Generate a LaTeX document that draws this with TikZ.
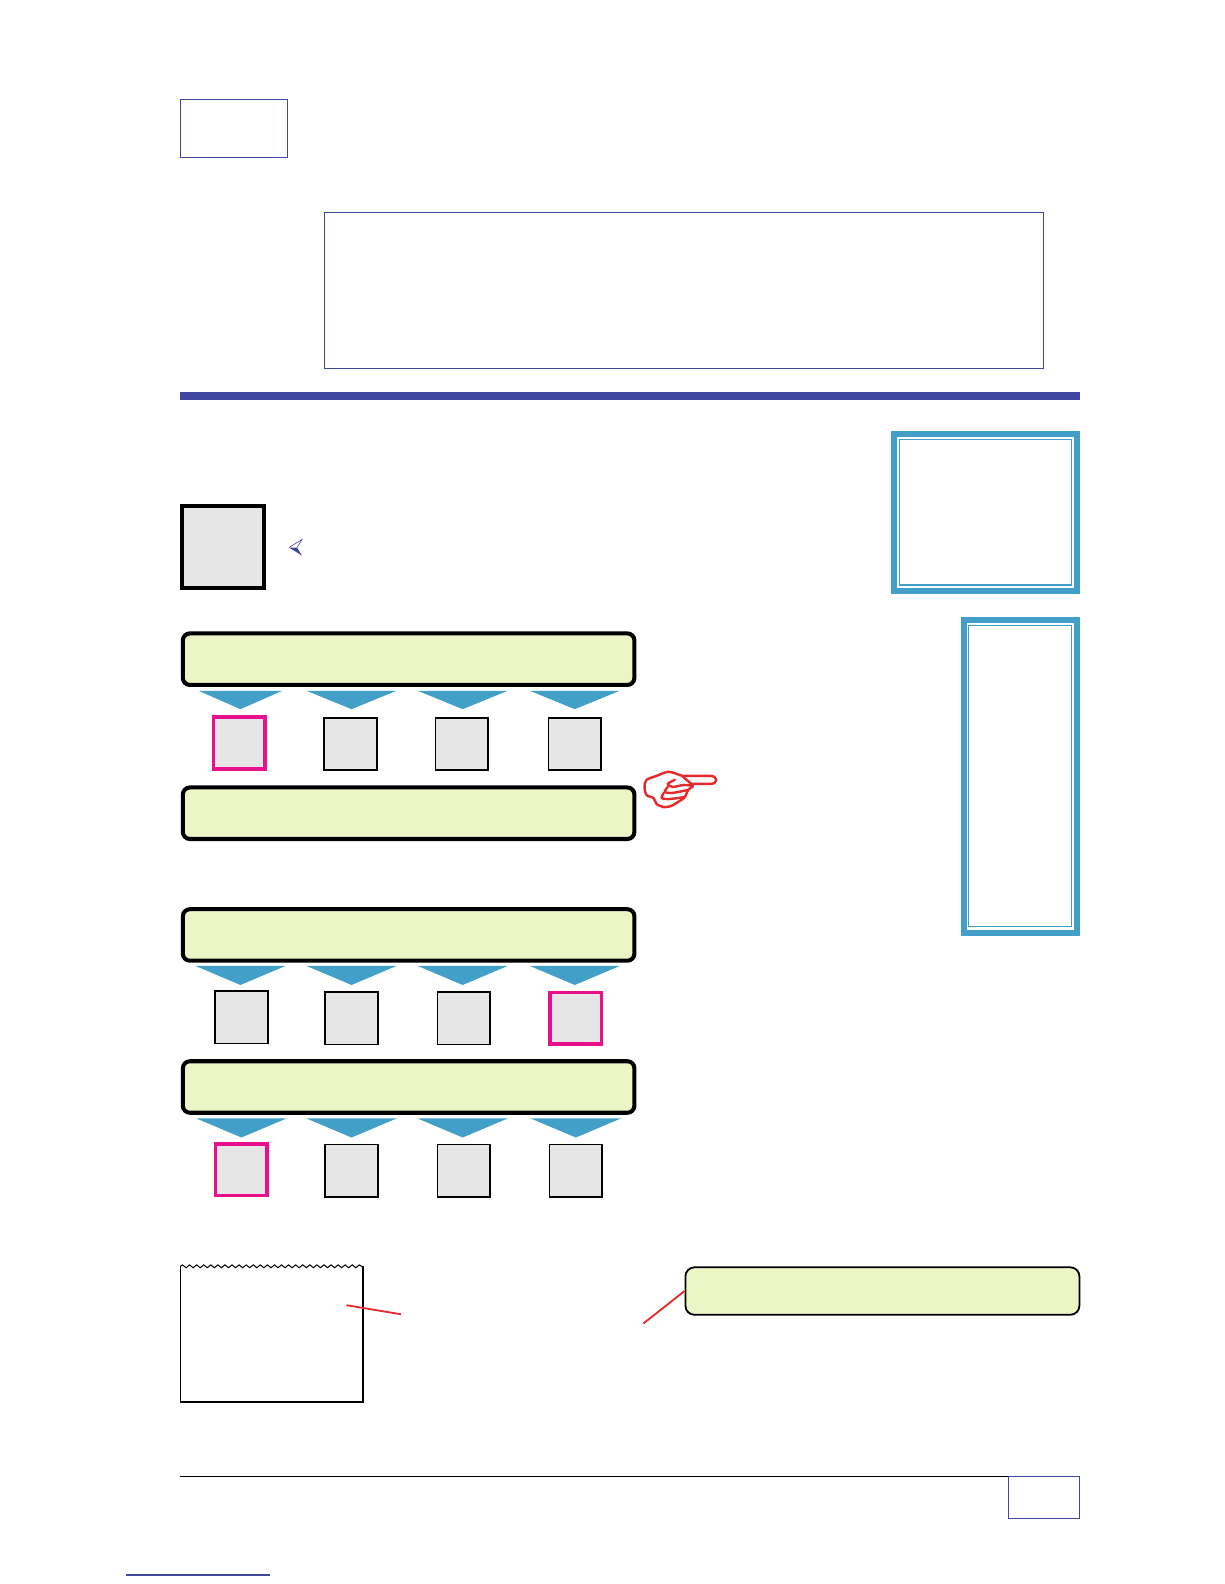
\documentclass[tikz,border=0pt]{standalone}
\usepackage{tikz}
\usetikzlibrary{decorations.pathmorphing,positioning}
\definecolor{navyline}{HTML}{3F479E}
\definecolor{paleblue}{HTML}{42A0C8}
\definecolor{palegreen}{HTML}{ECF5C6}
\definecolor{palegray}{HTML}{E6E6E6}
\definecolor{hotpink}{HTML}{E8108C}
\definecolor{handred}{HTML}{E52A2E}

\begin{document}
\begin{tikzpicture}
    [x=0.5bp,y=-0.5bp,
    notebox/.style={rectangle,draw=navyline,line width=0.4bp,inner sep=0pt},
    bar/.style={rectangle,rounded corners=3.5bp,draw=black,fill=palegreen,line width=2bp,
    inner sep=0pt,minimum width=223.5bp,minimum height=25.5bp},
    tile/.style={rectangle,draw=black,fill=palegray,line width=0.8bp,
    inner sep=0pt,minimum size=26bp},
    picked/.style={tile,draw=hotpink,line width=1.75bp,minimum size=25.5bp},
    wedge/.style={fill=paleblue},
    outerframe/.style={rectangle,draw=paleblue,line width=3bp,inner sep=0pt},
    innerframe/.style={rectangle,draw=paleblue,line width=0.6bp,inner sep=0pt},
    pointer/.style={draw=handred,line width=1.2bp,line join=round,line cap=round},
    leader/.style={draw=handred,line width=0.9bp}]
    \useasboundingbox (0,0) rectangle (1212,1568);
    % header
    \node[notebox,minimum width=53bp,minimum height=29bp] (title) at (231.5,127) {};
    \node[notebox,minimum width=356bp,minimum height=77.5bp] (intro) at (677,287.5) {};
    \fill[navyline] (178,388) rectangle (1069,396);
    % side frames
    \node[outerframe,minimum width=90.5bp,minimum height=77.5bp] (frame a) at (975.5,507.5) {};
    \node[innerframe,minimum width=85bp,minimum height=72bp] (frame a in) at (975.5,507) {};
    \node[outerframe,minimum width=56bp,minimum height=155bp] (frame b) at (1010,768.5) {};
    \node[innerframe,minimum width=51bp,minimum height=149bp] (frame b in) at (1010,768) {};
    % key square and mark
    \node[rectangle,draw=black,fill=palegray,line width=2bp,inner sep=0pt,minimum size=40.5bp] (key) at (220.5,541.5) {};
    \fill[navyline] (286,542) -- (299,550) -- (294,542) -- cycle;
    \draw[navyline,line width=0.3bp] (286,542) -- (299,534) -- (294,542);
    % first group
    \node[bar] (bar a) at (404.5,652.5) {};
    \fill[wedge] (197,684) -- (279,684) -- (238,702) -- cycle;
    \fill[wedge] (304,684) -- (392,684) -- (348,702) -- cycle;
    \fill[wedge] (414,684) -- (502,684) -- (458,702) -- cycle;
    \fill[wedge] (525,684) -- (613,684) -- (569,702) -- cycle;
    \node[picked] (a1) at (237,735.5) {};
    \node[tile] (a2) at (347,736.5) {};
    \node[tile] (a3) at (457,736.5) {};
    \node[tile] (a4) at (569,736.5) {};
    \node[bar] (bar b) at (404.5,805) {};
    % hand
    \draw[pointer] plot[smooth] coordinates {(675,768) (662,764) (650,768) (640,772) (638,779) (640,787) (647,790) (650,796) (657,799)};
    \draw[pointer] (675,768) -- (703,768) .. controls (711,768) and (711,776) .. (703,776) -- (684,776);
    \draw[pointer] plot[smooth] coordinates {(675,768) (682,774) (686,778) (681,782) (678,789) (671,794) (664,798) (657,799)};
    \draw[pointer] plot[smooth] coordinates {(668,772) (661,776) (666,779) (677,777) (686,778)};
    \draw[pointer] plot[smooth] coordinates {(661,779) (658,784) (665,785) (681,782)};
    \draw[pointer] plot[smooth] coordinates {(657,785) (655,790) (662,791) (678,789)};
    % second group
    \node[bar] (bar c) at (404.5,925.5) {};
    \fill[wedge] (193,956) -- (283,956) -- (238,975) -- cycle;
    \fill[wedge] (303,956) -- (393,956) -- (348,975) -- cycle;
    \fill[wedge] (413,956) -- (503,956) -- (458,975) -- cycle;
    \fill[wedge] (524,956) -- (614,956) -- (569,975) -- cycle;
    \node[tile] (c1) at (239,1007) {};
    \node[tile] (c2) at (348,1008) {};
    \node[tile] (c3) at (459,1008) {};
    \node[picked] (c4) at (570,1008) {};
    \node[bar] (bar d) at (404.5,1076) {};
    \fill[wedge] (194,1107) -- (284,1107) -- (239,1126) -- cycle;
    \fill[wedge] (303,1107) -- (393,1107) -- (348,1126) -- cycle;
    \fill[wedge] (413,1107) -- (503,1107) -- (458,1126) -- cycle;
    \fill[wedge] (525,1107) -- (615,1107) -- (570,1126) -- cycle;
    \node[picked] (d1) at (239,1158) {};
    \node[tile] (d2) at (348,1159) {};
    \node[tile] (d3) at (459,1159) {};
    \node[tile] (d4) at (570,1159) {};
    % torn sheet
    \draw[line width=0.7bp] (178.5,1253.5) -- (178.5,1388) -- (359.5,1388) -- (359.5,1253.5);
    \draw[line width=0.5bp,decorate,decoration={snake,amplitude=0.7bp,segment length=3.5bp}] (178.5,1253.5) -- (359.5,1253.5);
    \coordinate (sheet mark) at (343,1292);
    \coordinate (sheet end) at (397,1301);
    \draw[leader] (sheet mark) -- (sheet end);
    % callout
    \node[rectangle,rounded corners=4.5bp,draw=black,fill=palegreen,line width=0.9bp,inner sep=0pt,
    minimum width=195bp,minimum height=23.5bp] (callout) at (873.5,1278) {};
    \coordinate (callout end) at (637,1310);
    \draw[leader] (callout.west) -- (callout end);
    % footer
    \coordinate (foot left) at (178,1461.5);
    \coordinate (foot right) at (1069,1461.5);
    \draw[line width=0.5bp] (foot left) -- (foot right);
    \node[notebox,minimum width=35bp,minimum height=21bp] (page) at (1033.5,1482) {};
    \coordinate (link left) at (125,1559);
    \coordinate (link right) at (267,1559);
    \draw[navyline,line width=0.6bp] (link left) -- (link right);
\end{tikzpicture}
\end{document}
